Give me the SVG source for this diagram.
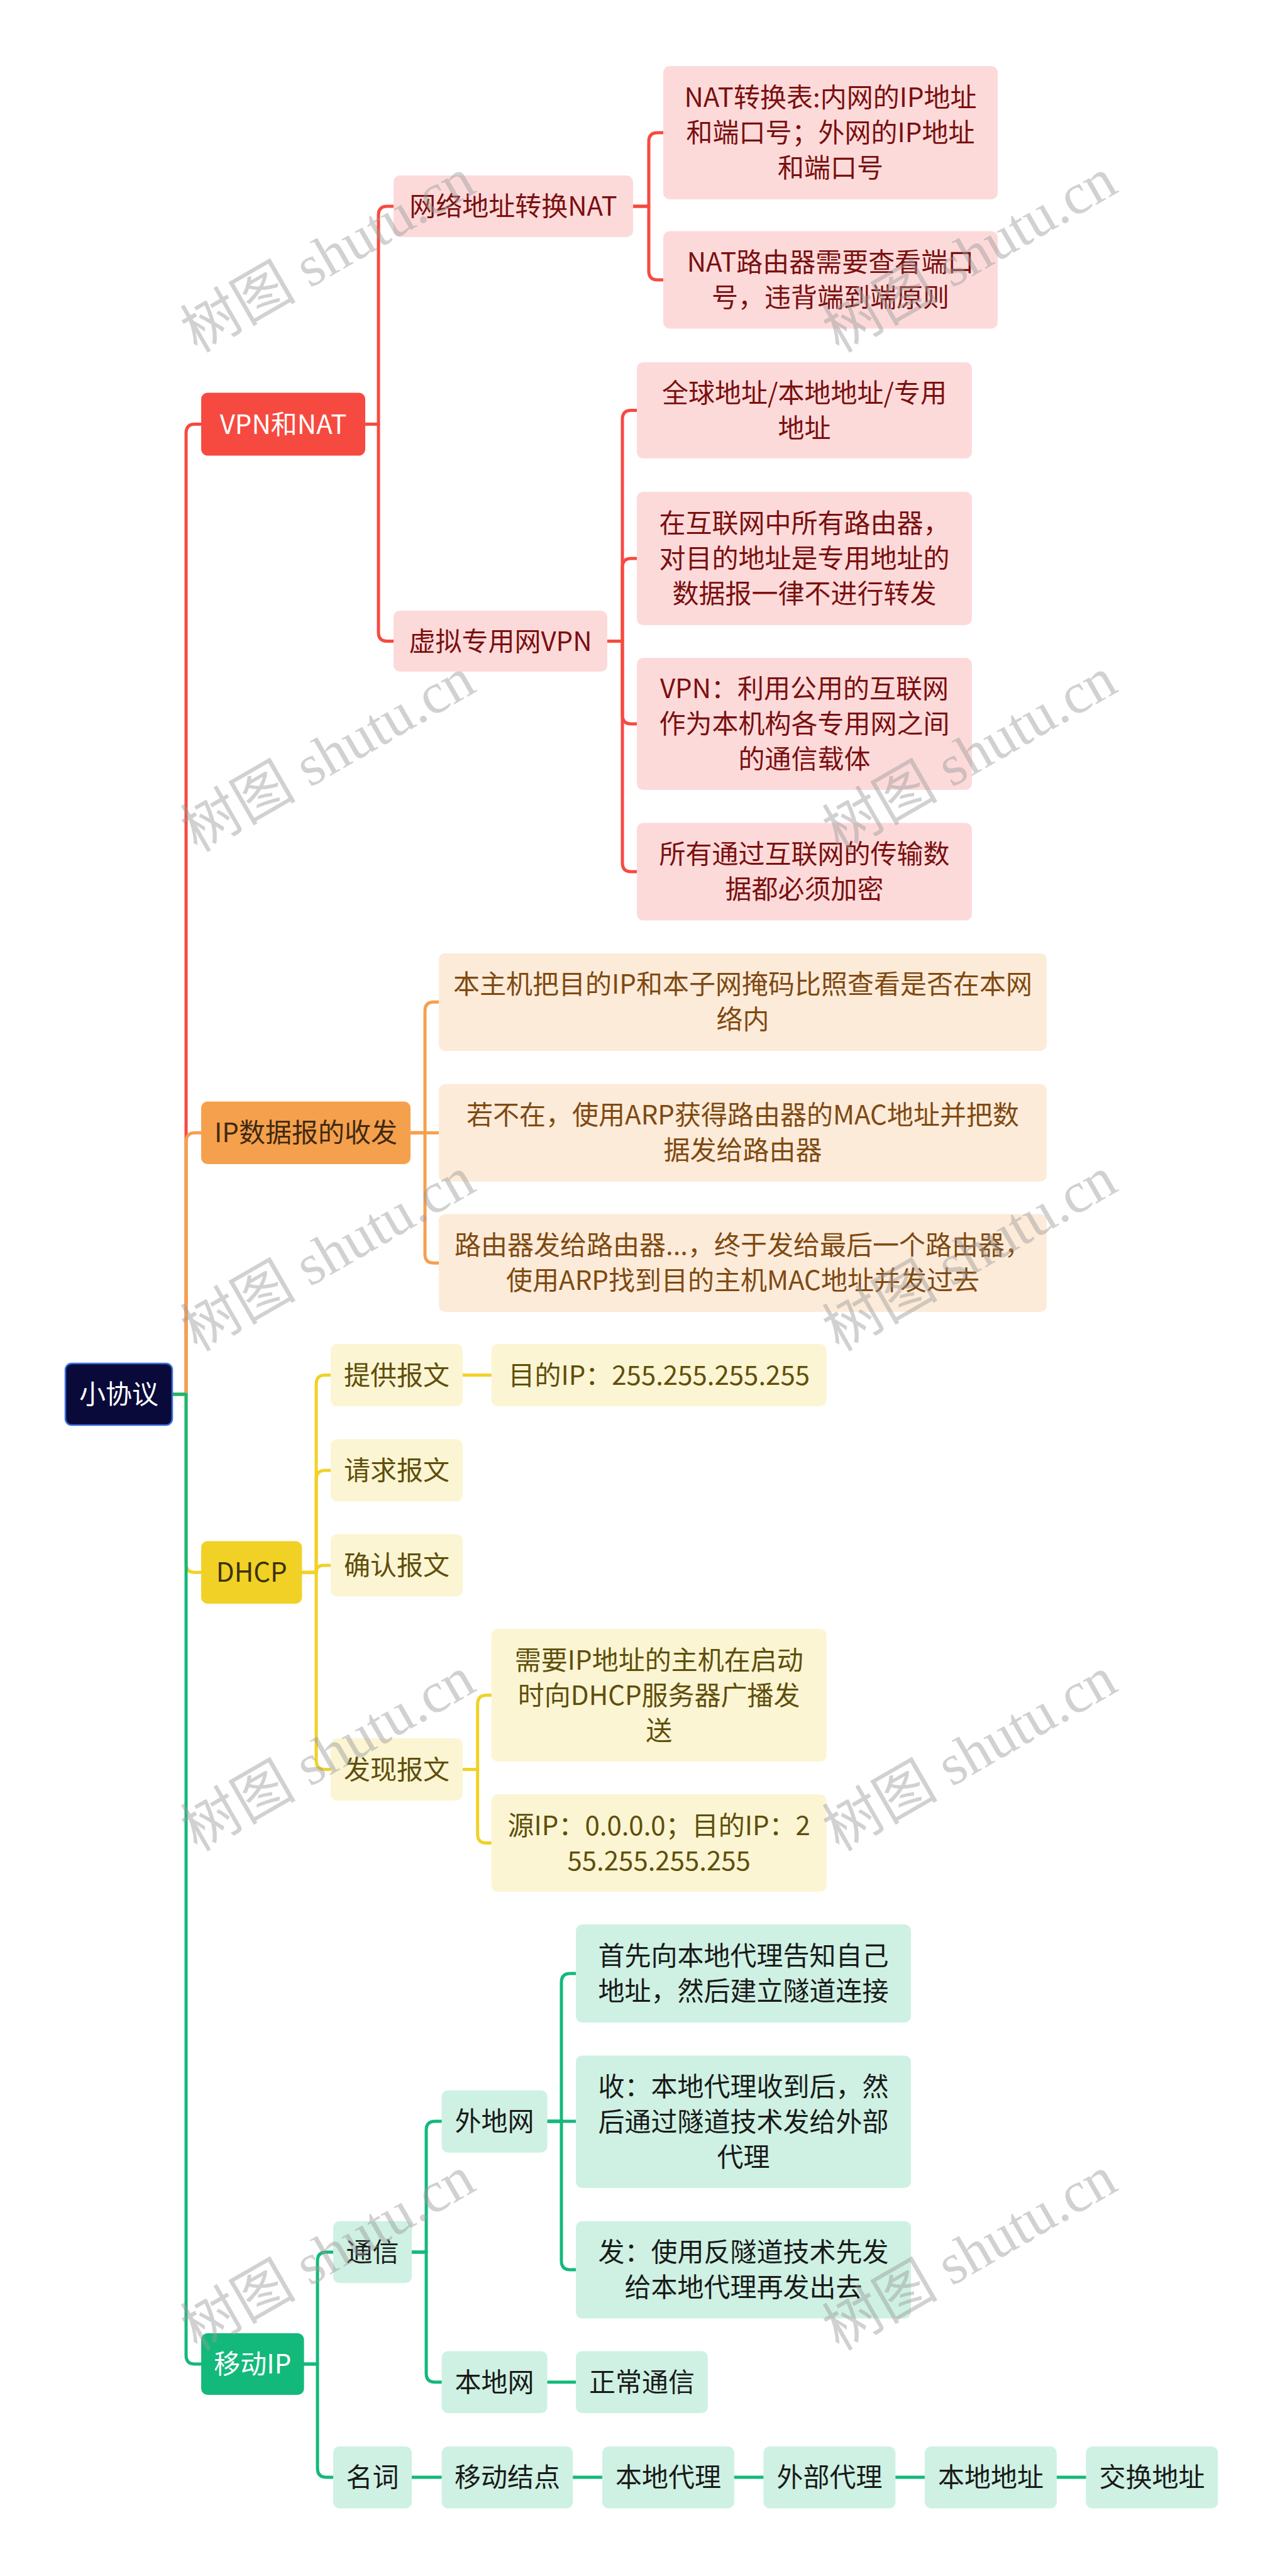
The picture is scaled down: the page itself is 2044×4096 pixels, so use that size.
<svg xmlns="http://www.w3.org/2000/svg" width="2044" height="4096" viewBox="0 0 2044 4096">
<style>
text{font-family:"Noto Sans CJK SC","Noto Sans",sans-serif;font-size:42px;text-anchor:middle}
.c{fill:none;stroke-width:5;stroke-linecap:round;stroke-linejoin:round}
.cr{stroke:#f64a40}.co{stroke:#f5a04d}.cy{stroke:#f1d126}.cg{stroke:#13b97b}
.r2{fill:#fddada}.o2{fill:#fdebd9}.y2{fill:#fbf5d3}.g2{fill:#cef1e3}
.tr{fill:#7a1010}.to{fill:#7f4a12}.ty{fill:#5f4f0b}.tg{fill:#1a1a1a}
.wm{font-family:"Liberation Serif","Noto Sans CJK SC",serif;font-size:92px;fill:#9a9a9a;opacity:0.45}
</style>
<g id="connectors">
<path class="c cr" d="M274,2217 H296 V688.5 Q296,674.5 310,674.5 H320"/>
<path class="c co" d="M274,2217 H296 V1815.3 Q296,1801.3 310,1801.3 H320"/>
<path class="c cy" d="M274,2217 H296 V2486.3 Q296,2500.3 310,2500.3 H320"/>
<path class="c cg" d="M274,2217 H296 V3745 Q296,3759 310,3759 H320"/>
<path class="c cr" d="M581,674.5 H602 V342 Q602,328 616,328 H626"/>
<path class="c cr" d="M581,674.5 H602 V1005.5 Q602,1019.5 616,1019.5 H626"/>
<path class="c cr" d="M1007,328 H1032 V225 Q1032,211 1046,211 H1055"/>
<path class="c cr" d="M1007,328 H1032 V431 Q1032,445 1046,445 H1055"/>
<path class="c cr" d="M966,1019.5 H990 V666.5 Q990,652.5 1004,652.5 H1013"/>
<path class="c cr" d="M966,1019.5 H990 V902 Q990,888 1004,888 H1013"/>
<path class="c cr" d="M966,1019.5 H990 V1137 Q990,1151 1004,1151 H1013"/>
<path class="c cr" d="M966,1019.5 H990 V1372 Q990,1386 1004,1386 H1013"/>
<path class="c co" d="M653,1801.3 H676 V1607.3 Q676,1593.3 690,1593.3 H698"/>
<path class="c co" d="M653,1801.3 H698"/>
<path class="c co" d="M653,1801.3 H676 V1994.2 Q676,2008.2 690,2008.2 H698"/>
<path class="c cy" d="M480.4,2500.3 H503 V2200.5 Q503,2186.5 517,2186.5 H526"/>
<path class="c cy" d="M480.4,2500.3 H503 V2352 Q503,2338 517,2338 H526"/>
<path class="c cy" d="M480.4,2500.3 H503 Q503,2489 514.3,2489 H526"/>
<path class="c cy" d="M480.4,2500.3 H503 V2799.5 Q503,2813.5 517,2813.5 H526"/>
<path class="c cy" d="M736,2186.5 H781.7"/>
<path class="c cy" d="M736,2813.5 H759.7 V2709.5 Q759.7,2695.5 773.7,2695.5 H781.7"/>
<path class="c cy" d="M736,2813.5 H759.7 V2916.5 Q759.7,2930.5 773.7,2930.5 H781.7"/>
<path class="c cg" d="M483.6,3759 H505 V3595 Q505,3581 519,3581 H530"/>
<path class="c cg" d="M483.6,3759 H505 V3925 Q505,3939 519,3939 H530"/>
<path class="c cg" d="M655,3581 H678 V3387 Q678,3373 692,3373 H702.6"/>
<path class="c cg" d="M655,3581 H678 V3773.7 Q678,3787.7 692,3787.7 H702.6"/>
<path class="c cg" d="M870.6,3373 H893 V3152 Q893,3138 907,3138 H916"/>
<path class="c cg" d="M870.6,3373 H916"/>
<path class="c cg" d="M870.6,3373 H893 V3595 Q893,3609 907,3609 H916"/>
<path class="c cg" d="M870.6,3787.7 H916"/>
<path class="c cg" d="M655,3939 H702.6"/>
<path class="c cg" d="M911.3,3939 H957.9"/>
<path class="c cg" d="M1167.9,3939 H1214.4"/>
<path class="c cg" d="M1424.3,3939 H1470.9"/>
<path class="c cg" d="M1680.8,3939 H1727.4"/>
</g>
<g id="root"><rect x="104" y="2168" width="170" height="98" rx="10" fill="#0a0a3a" stroke="#3c70e0" stroke-width="2.5"/><text x="189" y="2232" fill="#ffffff">小协议</text></g>
<g id="vpn-nat"><rect x="320" y="624.5" width="261" height="100" rx="10" fill="#f64a40"/><text x="450.5" y="689.5" fill="#ffffff">VPN和NAT</text></g>
<g id="ip-datagram"><rect x="320" y="1751.6" width="333" height="99.4" rx="10" fill="#f5a04d"/><text x="486.5" y="1816.3" fill="#402a10">IP数据报的收发</text></g>
<g id="dhcp"><rect x="320" y="2450.6" width="160.4" height="99.4" rx="10" fill="#f1d126"/><text x="400.2" y="2515.3" fill="#3b330b">DHCP</text></g>
<g id="mobile-ip"><rect x="320" y="3710" width="163.6" height="98" rx="10" fill="#13b97b"/><text x="401.8" y="3774" fill="#ffffff">移动IP</text></g>
<g id="nat"><rect class="r2" x="626" y="279" width="381" height="98" rx="10"/><text class="tr" x="816.5" y="343">网络地址转换NAT</text></g>
<g id="vpn"><rect class="r2" x="626" y="971" width="340" height="97" rx="10"/><text class="tr" x="796" y="1034.5">虚拟专用网VPN</text></g>
<g id="nat-table"><rect class="r2" x="1055" y="105" width="532" height="212" rx="10"/><text class="tr"><tspan x="1321" y="170">NAT转换表:内网的IP地址</tspan><tspan x="1321" y="226">和端口号；外网的IP地址</tspan><tspan x="1321" y="282">和端口号</tspan></text></g>
<g id="nat-router"><rect class="r2" x="1055" y="367.5" width="532" height="155" rx="10"/><text class="tr"><tspan x="1321" y="432">NAT路由器需要查看端口</tspan><tspan x="1321" y="488">号，违背端到端原则</tspan></text></g>
<g id="vpn-addr"><rect class="r2" x="1013" y="576" width="533" height="153" rx="10"/><text class="tr"><tspan x="1279.5" y="639.5">全球地址/本地地址/专用</tspan><tspan x="1279.5" y="695.5">地址</tspan></text></g>
<g id="vpn-router"><rect class="r2" x="1013" y="782" width="533" height="212" rx="10"/><text class="tr"><tspan x="1279.5" y="847">在互联网中所有路由器，</tspan><tspan x="1279.5" y="903">对目的地址是专用地址的</tspan><tspan x="1279.5" y="959">数据报一律不进行转发</tspan></text></g>
<g id="vpn-def"><rect class="r2" x="1013" y="1046" width="533" height="210" rx="10"/><text class="tr"><tspan x="1279.5" y="1110">VPN：利用公用的互联网</tspan><tspan x="1279.5" y="1166">作为本机构各专用网之间</tspan><tspan x="1279.5" y="1222">的通信载体</tspan></text></g>
<g id="vpn-encrypt"><rect class="r2" x="1013" y="1308.6" width="533" height="155" rx="10"/><text class="tr"><tspan x="1279.5" y="1373">所有通过互联网的传输数</tspan><tspan x="1279.5" y="1429">据都必须加密</tspan></text></g>
<g id="ip-1"><rect class="o2" x="698" y="1515.7" width="967" height="155.3" rx="10"/><text class="to"><tspan x="1181.5" y="1580.3">本主机把目的IP和本子网掩码比照查看是否在本网</tspan><tspan x="1181.5" y="1636.3">络内</tspan></text></g>
<g id="ip-2"><rect class="o2" x="698" y="1723.7" width="967" height="155" rx="10"/><text class="to"><tspan x="1181.5" y="1788">若不在，使用ARP获得路由器的MAC地址并把数</tspan><tspan x="1181.5" y="1844">据发给路由器</tspan></text></g>
<g id="ip-3"><rect class="o2" x="698" y="1930.5" width="967" height="155.5" rx="10"/><text class="to"><tspan x="1181.5" y="1995">路由器发给路由器...，终于发给最后一个路由器，</tspan><tspan x="1181.5" y="2051">使用ARP找到目的主机MAC地址并发过去</tspan></text></g>
<g id="dhcp-offer"><rect class="y2" x="526" y="2137" width="210" height="99" rx="10"/><text class="ty" x="631" y="2201.5">提供报文</text></g>
<g id="dhcp-request"><rect class="y2" x="526" y="2288.5" width="210" height="99" rx="10"/><text class="ty" x="631" y="2353">请求报文</text></g>
<g id="dhcp-ack"><rect class="y2" x="526" y="2439.5" width="210" height="99" rx="10"/><text class="ty" x="631" y="2504">确认报文</text></g>
<g id="dhcp-discover"><rect class="y2" x="526" y="2764" width="210" height="99" rx="10"/><text class="ty" x="631" y="2828.5">发现报文</text></g>
<g id="offer-dst"><rect class="y2" x="781.7" y="2137" width="533" height="99" rx="10"/><text class="ty" x="1048.2" y="2201.5">目的IP：255.255.255.255</text></g>
<g id="discover-1"><rect class="y2" x="781.7" y="2590" width="533" height="211" rx="10"/><text class="ty"><tspan x="1048.2" y="2654.5">需要IP地址的主机在启动</tspan><tspan x="1048.2" y="2710.5">时向DHCP服务器广播发</tspan><tspan x="1048.2" y="2766.5">送</tspan></text></g>
<g id="discover-2"><rect class="y2" x="781.7" y="2853" width="533" height="155" rx="10"/><text class="ty"><tspan x="1048.2" y="2917.5">源IP：0.0.0.0；目的IP：2</tspan><tspan x="1048.2" y="2973.5">55.255.255.255</tspan></text></g>
<g id="comm"><rect class="g2" x="530" y="3531.7" width="125" height="98.6" rx="10"/><text class="tg" x="592.5" y="3596">通信</text></g>
<g id="terms"><rect class="g2" x="530" y="3890" width="125" height="98.5" rx="10"/><text class="tg" x="592.5" y="3954">名词</text></g>
<g id="foreign-net"><rect class="g2" x="702.6" y="3323.7" width="168" height="99" rx="10"/><text class="tg" x="786.6" y="3388">外地网</text></g>
<g id="home-net"><rect class="g2" x="702.6" y="3738.4" width="168" height="98.6" rx="10"/><text class="tg" x="786.6" y="3802.7">本地网</text></g>
<g id="foreign-1"><rect class="g2" x="916" y="3060" width="533" height="156" rx="10"/><text class="tg"><tspan x="1182.5" y="3125">首先向本地代理告知自己</tspan><tspan x="1182.5" y="3181">地址，然后建立隧道连接</tspan></text></g>
<g id="foreign-2"><rect class="g2" x="916" y="3268.4" width="533" height="210.6" rx="10"/><text class="tg"><tspan x="1182.5" y="3332.7">收：本地代理收到后，然</tspan><tspan x="1182.5" y="3388.7">后通过隧道技术发给外部</tspan><tspan x="1182.5" y="3444.7">代理</tspan></text></g>
<g id="foreign-3"><rect class="g2" x="916" y="3531.7" width="533" height="154.7" rx="10"/><text class="tg"><tspan x="1182.5" y="3596">发：使用反隧道技术先发</tspan><tspan x="1182.5" y="3652">给本地代理再发出去</tspan></text></g>
<g id="home-normal"><rect class="g2" x="916" y="3738.4" width="210" height="98.6" rx="10"/><text class="tg" x="1021" y="3802.7">正常通信</text></g>
<g id="term-1"><rect class="g2" x="702.6" y="3890" width="208.7" height="98.5" rx="10"/><text class="tg" x="807" y="3954">移动结点</text></g>
<g id="term-2"><rect class="g2" x="957.9" y="3890" width="210" height="98.5" rx="10"/><text class="tg" x="1062.9" y="3954">本地代理</text></g>
<g id="term-3"><rect class="g2" x="1214.4" y="3890" width="210" height="98.5" rx="10"/><text class="tg" x="1319.4" y="3954">外部代理</text></g>
<g id="term-4"><rect class="g2" x="1470.9" y="3890" width="210" height="98.5" rx="10"/><text class="tg" x="1575.9" y="3954">本地地址</text></g>
<g id="term-5"><rect class="g2" x="1727.4" y="3890" width="210" height="98.5" rx="10"/><text class="tg" x="1832.4" y="3954">交换地址</text></g>
<g id="watermarks">
<text class="wm" transform="translate(522 407) rotate(-30)" x="0" y="30">树图 shutu.cn</text>
<text class="wm" transform="translate(1543 407) rotate(-30)" x="0" y="30">树图 shutu.cn</text>
<text class="wm" transform="translate(522 1201) rotate(-30)" x="0" y="30">树图 shutu.cn</text>
<text class="wm" transform="translate(1543 1201) rotate(-30)" x="0" y="30">树图 shutu.cn</text>
<text class="wm" transform="translate(522 1995) rotate(-30)" x="0" y="30">树图 shutu.cn</text>
<text class="wm" transform="translate(1543 1995) rotate(-30)" x="0" y="30">树图 shutu.cn</text>
<text class="wm" transform="translate(522 2790) rotate(-30)" x="0" y="30">树图 shutu.cn</text>
<text class="wm" transform="translate(1543 2790) rotate(-30)" x="0" y="30">树图 shutu.cn</text>
<text class="wm" transform="translate(522 3584) rotate(-30)" x="0" y="30">树图 shutu.cn</text>
<text class="wm" transform="translate(1543 3584) rotate(-30)" x="0" y="30">树图 shutu.cn</text>
</g>
</svg>
